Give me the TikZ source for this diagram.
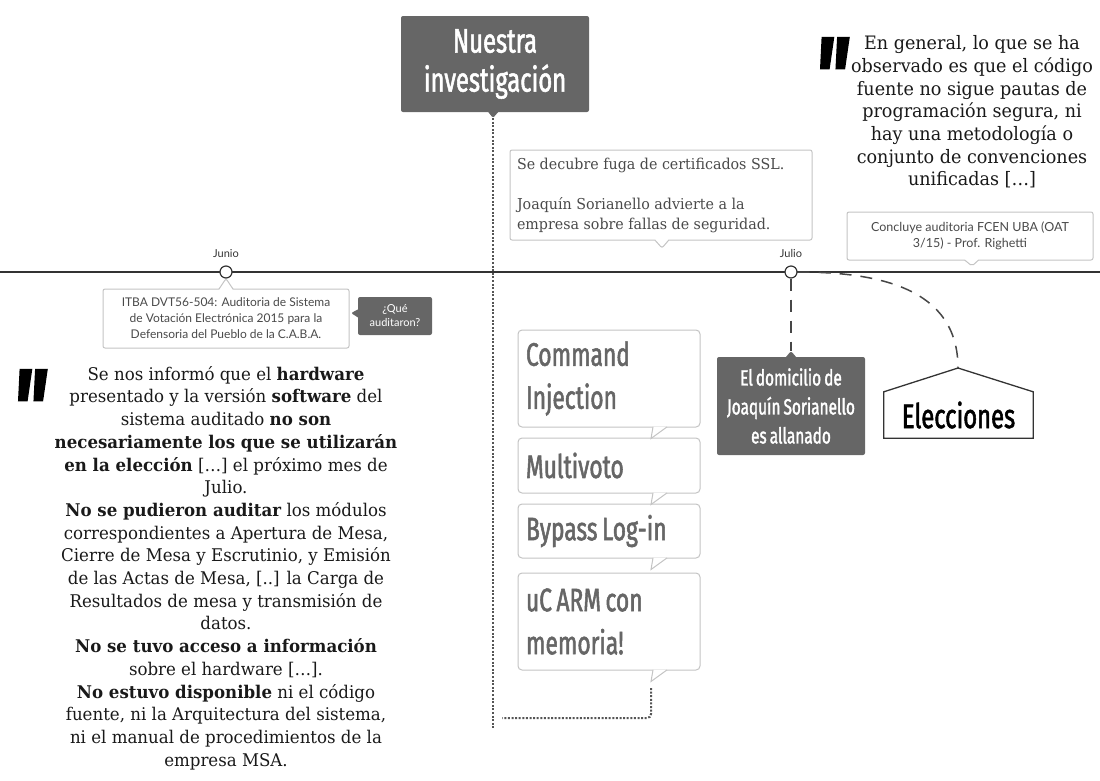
\documentclass[tikz,border=0pt]{standalone}
\usepackage{fontspec}
\setmainfont{DejaVu Serif}[FakeStretch=0.95]
\newfontfamily\condfont{Fira Sans}[FakeStretch=0.7,FakeBold=1.6,WordSpace=0.75]
\newfontfamily\uifont{Lato}
\usepackage{tikz}
\usetikzlibrary{shapes.callouts}
\usetikzlibrary{positioning}

\definecolor{boxgray}{HTML}{666666}
\definecolor{calloutgray}{HTML}{C4C4C4}
\definecolor{issuegray}{HTML}{666666}
\definecolor{textgray}{HTML}{4A4A4A}
\definecolor{linegray}{HTML}{333333}
\definecolor{dotgray}{HTML}{555555}

\begin{document}
\begin{tikzpicture}[x=1pt,y=-1pt,
    darkbox/.style={rectangle callout,fill=boxgray,rounded corners=2pt,text=white,align=center,inner sep=0pt,callout pointer width=10pt},
    lightbox/.style={rectangle callout,draw=calloutgray,fill=white,rounded corners=2pt,line width=1pt,inner sep=0pt,callout pointer width=14pt},
    issue/.style={rectangle,draw=calloutgray,fill=white,rounded corners=4pt,line width=1pt,minimum width=182pt,text width=166pt,align=flush left,inner sep=0pt,text=issuegray,font=\condfont\fontsize{32.5}{43}\selectfont},
    month/.style={circle,draw=linegray,fill=white,line width=1.2pt,minimum size=12pt,inner sep=0pt},
    monthlabel/.style={font=\uifont\fontsize{11}{13}\selectfont,text=linegray},
    quotemark/.style={anchor=base,font=\condfont\bfseries\itshape\fontsize{110}{110}\selectfont},
    quotetext/.style={align=center,font=\fontsize{17.5}{22.7}\selectfont,text=black!90},
    trail/.style={line width=2pt,draw=dotgray,dash pattern=on 2pt off 1.6pt},
    hint/.style={line width=1.5pt,draw=linegray!90,dash pattern=on 12pt off 9pt}]

\useasboundingbox (0,0) rectangle (1100,780);

% timeline
\draw[line width=1.8pt,linegray] (0,272) -- (1100,272);
\node[month] (junio) at (226,272) {};
\node[monthlabel,above=4pt of junio] (junioLabel) {Junio};
\node[month] (julio) at (791,272) {};
\node[monthlabel,above=4pt of julio] (julioLabel) {Julio};

% top
\node[darkbox,callout absolute pointer={(493,118)},minimum width=188pt,minimum height=96pt,
      font=\condfont\fontsize{34}{39}\selectfont] (nuestra) at (495,64) {Nuestra\\investigación};
\node[lightbox,callout absolute pointer={(662,248)},minimum width=302pt,minimum height=90pt,
      text width=288pt,align=flush left,font=\fontsize{15}{20}\selectfont,text=textgray] (ssl) at (661,195)
      {Se decubre fuga de certificados SSL.\\[20pt]Joaquín Sorianello advierte a la\\empresa sobre fallas de seguridad.};
\node[lightbox,callout absolute pointer={(972,266)},minimum width=246pt,minimum height=48pt,
      align=center,font=\uifont\fontsize{12.5}{16}\selectfont,text=textgray] (fcen) at (970,236)
      {Concluye auditoria FCEN UBA (OAT\\3/15) - Prof. Righetti};

% junio
\node[lightbox,callout absolute pointer={(junio.south)},minimum width=246pt,minimum height=59pt,
      align=center,font=\uifont\fontsize{12}{16}\selectfont,text=textgray] (itba) at (226,318.5)
      {ITBA DVT56-504: Auditoria de Sistema\\de Votación Electrónica 2015 para la\\Defensoria del Pueblo de la C.A.B.A.};
\node[darkbox,callout absolute pointer={(351,313)},callout pointer width=8pt,minimum width=74pt,minimum height=38pt,
      font=\uifont\fontsize{11}{14}\selectfont] (que) at (395,316) {¿Qué\\auditaron?};

% julio
\node[darkbox,callout absolute pointer={(791,351)},minimum width=148pt,minimum height=98pt,
      font=\condfont\fontsize{22}{29}\selectfont] (allanamiento) at (791,406) {El domicilio de\\Joaquín Sorianello\\es allanado};
\node[minimum width=149pt,minimum height=46pt,font=\condfont\fontsize{34}{38}\selectfont] (elecciones) at (958.5,415) {Elecciones};
\coordinate (elecTop) at (958,368);
\draw[line width=1.3pt,linegray] (elecciones.south west) -- (elecciones.north west) -- (elecTop)
      -- (elecciones.north east) -- (elecciones.south east) -- cycle;

\draw[hint] (julio.south) -- (allanamiento.pointer);
\draw[hint] (julio.east) to[out=0,in=90,looseness=1.1] (elecTop);

% hallazgos
\node[issue,minimum height=97pt] (cmd) at (609,378.5) {Command\\Injection};
\node[issue,minimum height=55pt] (multi) at (609,465.5) {Multivoto};
\node[issue,minimum height=54pt] (bypass) at (609,531) {Bypass Log-in};
\node[issue,minimum height=97pt] (arm) at (609,621.5) {uC ARM con\\memoria!};
\foreach \n in {cmd,multi,bypass,arm}
  \draw[calloutgray,line width=1pt,fill=white] ([xshift=58pt,yshift=0.6pt]\n.south)
      -- ([xshift=42pt,yshift=-11pt]\n.south) -- ([xshift=44pt,yshift=0.6pt]\n.south);

\coordinate (nuestraTip) at (493,118);
\coordinate (trailEnd) at (493,728);
\coordinate (armTip) at (651,688);
\coordinate (branchEnd) at (502,718);
\draw[trail] (nuestraTip) -- (trailEnd);
\draw[trail,rounded corners=4pt] (armTip) |- (branchEnd);

% citas
\node[quotemark] (markRight) at (831,114) {"};
\node[quotetext,font=\fontsize{18.5}{22.7}\selectfont] (quoteRight) at (972,112)
  {En general, lo que se ha\\observado es que el código\\fuente no sigue pautas de\\programación segura, ni\\hay una metodología o\\conjunto de convenciones\\unificadas […]};
\node[quotemark] (markLeft) at (29,446) {"};
\node[quotetext] (quoteLeft) at (226,568)
  {Se nos informó que el \textbf{hardware}\\
   presentado y la versión \textbf{software} del\\
   sistema auditado \textbf{no son}\\
   \textbf{necesariamente los que se utilizarán}\\
   \textbf{en la elección} […] el próximo mes de\\
   Julio.\\
   \textbf{No se pudieron auditar} los módulos\\
   correspondientes a Apertura de Mesa,\\
   Cierre de Mesa y Escrutinio, y Emisión\\
   de las Actas de Mesa, [..] la Carga de\\
   Resultados de mesa y transmisión de\\
   datos.\\
   \textbf{No se tuvo acceso a información}\\
   sobre el hardware […].\\
   \textbf{No estuvo disponible} ni el código\\
   fuente, ni la Arquitectura del sistema,\\
   ni el manual de procedimientos de la\\
   empresa MSA.};
\end{tikzpicture}
\end{document}
